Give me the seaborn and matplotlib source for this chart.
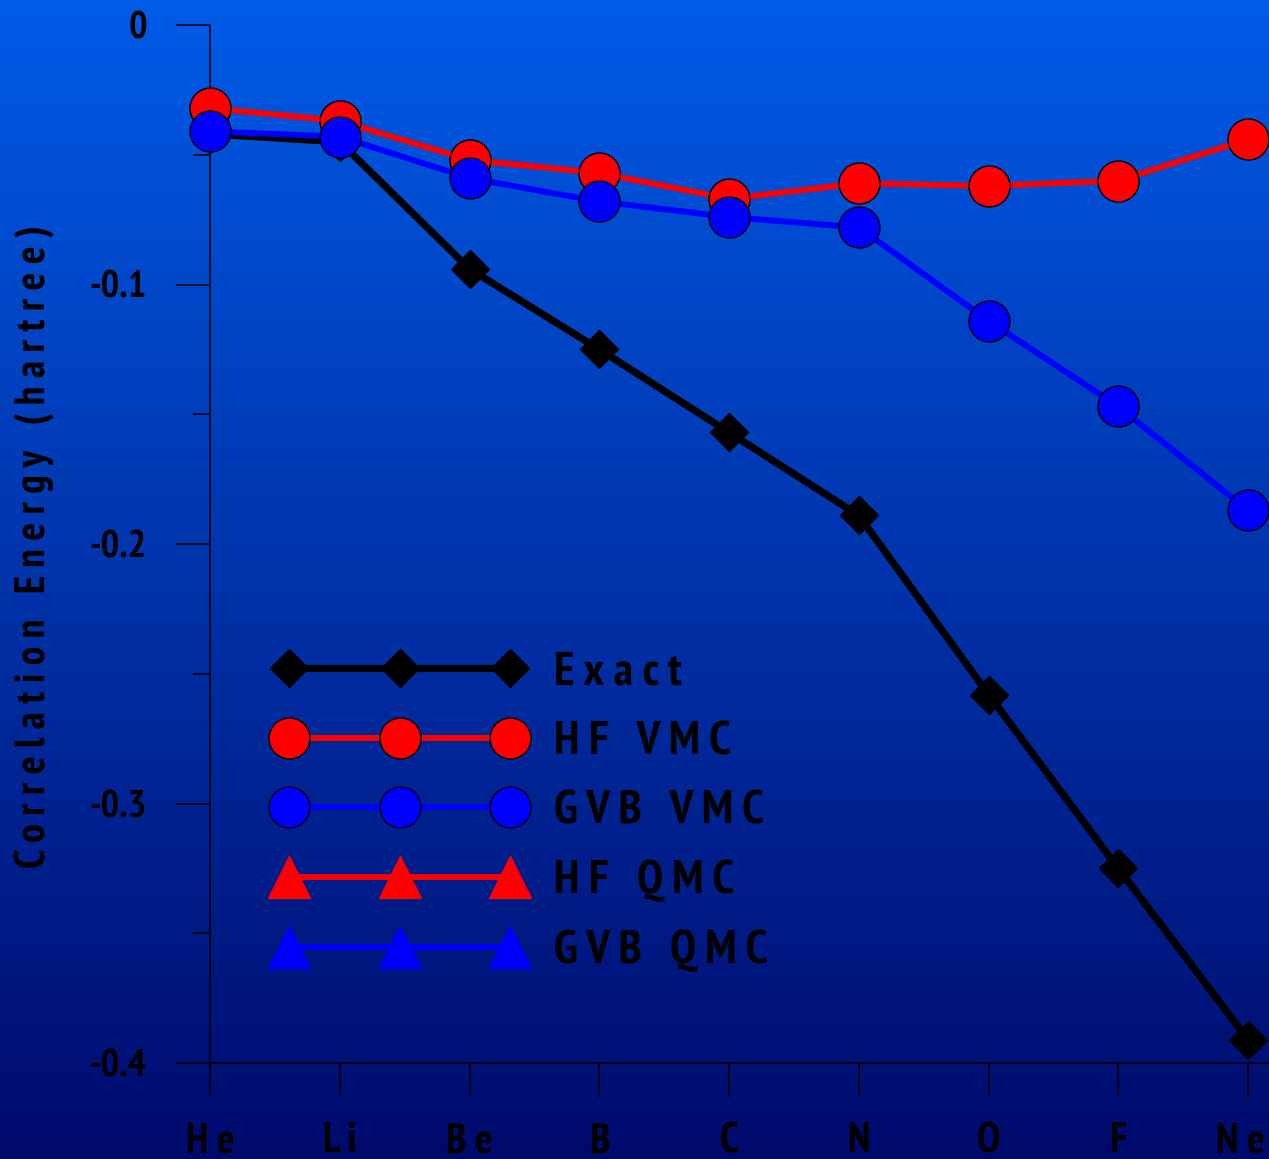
import numpy as np
import pandas as pd
import matplotlib
matplotlib.use("Agg")
import matplotlib.pyplot as plt
import seaborn as sns
from matplotlib.lines import Line2D
from matplotlib import font_manager as fm
from matplotlib.ticker import MultipleLocator, FixedLocator, FixedFormatter
from matplotlib.transforms import ScaledTranslation

# ---------------- data ----------------
elements = ["He", "Li", "Be", "B", "C", "N", "O", "F", "Ne"]
exact = [-0.042, -0.045, -0.094, -0.125, -0.157, -0.189, -0.258, -0.325, -0.391]
hf_vmc = [-0.032, -0.037, -0.052, -0.057, -0.067, -0.061, -0.062, -0.060, -0.044]
gvb_vmc = [-0.041, -0.043, -0.059, -0.068, -0.074, -0.078, -0.114, -0.147, -0.187]
legend_labels = ["Exact", "HF VMC", "GVB VMC", "HF QMC", "GVB QMC"]
y_ticks = [0, -0.1, -0.2, -0.3, -0.4]
y_tick_labels = ["0", "-0.1", "-0.2", "-0.3", "-0.4"]
y_label = "Correlation Energy (hartree)"


def spaced(s):
    return " ".join(s)


names = {f.name for f in fm.fontManager.ttflist}
family = "Liberation Sans"
for cand in ["PT Sans Narrow", "Liberation Sans Narrow", "Roboto Condensed", "Archivo Narrow"]:
    if cand in names:
        family = cand
        break
fams = [family, "DejaVu Sans"]
plt.rcParams["font.family"] = fams
plt.rcParams["font.weight"] = "bold"

W, H = 1269, 1159
fig = plt.figure(figsize=(W / 100, H / 100), dpi=100)

# background gradient
bg = fig.add_axes([0, 0, 1, 1], zorder=-10)
top = np.array([0, 92, 232]) / 255.0
bot = np.array([0, 10, 108]) / 255.0
t = np.linspace(0, 1, 512).reshape(-1, 1, 1)
grad = top * (1 - t) + bot * t
grad = np.repeat(grad, 2, axis=1)
bg.imshow(grad, aspect="auto", extent=[0, 1, 0, 1], origin="upper")
bg.axis("off")

# main axes
x0, x1 = 210, 1269
y0, y1 = 25, 1063
ax = fig.add_axes([x0 / W, 1 - y1 / H, (x1 - x0) / W, (y1 - y0) / H])
ax.set_facecolor("none")

sns.lineplot(x=elements, y=exact, ax=ax, sort=False, color="black", marker="D",
             markersize=19.5, markeredgecolor="black", markeredgewidth=1,
             linewidth=5.2, label=legend_labels[0], clip_on=False, zorder=3)
sns.lineplot(x=elements, y=hf_vmc, ax=ax, sort=False, color="#ff0000", marker="o",
             markersize=29.5, markeredgecolor="black", markeredgewidth=1,
             linewidth=4.3, label=legend_labels[1], clip_on=False, zorder=4)
sns.lineplot(x=elements, y=gvb_vmc, ax=ax, sort=False, color="#0000ff", marker="o",
             markersize=29.5, markeredgecolor="black", markeredgewidth=1,
             linewidth=4.3, label=legend_labels[2], clip_on=False, zorder=5)

ax.set_ylim(-0.4, 0)
ax.set_xlim(0, (len(elements) - 1) + 21 / 129.75)

ax.yaxis.set_major_locator(FixedLocator(y_ticks))
ax.yaxis.set_major_formatter(FixedFormatter(y_tick_labels))
ax.yaxis.set_minor_locator(MultipleLocator(0.05))
ax.set_xticks(range(len(elements)))
ax.set_xticklabels([spaced(e) for e in elements])

for side in ["top", "right"]:
    ax.spines[side].set_visible(False)
for side in ["left", "bottom"]:
    ax.spines[side].set_color("black")
    ax.spines[side].set_linewidth(1.1)

ax.tick_params(axis="y", which="major", length=24.5, width=1.1, direction="out",
               pad=21, labelsize=28, colors="black")
ax.tick_params(axis="y", which="minor", length=12, width=1.1, direction="out", colors="black")
ax.tick_params(axis="x", which="major", length=24.5, width=1.1, direction="out",
               pad=18, labelsize=30, colors="black")
for lab in ax.get_xticklabels() + ax.get_yticklabels():
    lab.set_fontweight("bold")

# keep the last category label inside the figure edge
last = ax.get_xticklabels()[-1]
last.set_transform(last.get_transform() + ScaledTranslation(-8 / 100, 0, fig.dpi_scale_trans))

ax.set_xlabel("")
ax.set_ylabel(spaced(y_label), fontsize=30, fontweight="bold", color="black")
ax.yaxis.set_label_coords((54 - x0) / (x1 - x0), (y1 - 547) / (y1 - y0))

# legend
handles, labels = ax.get_legend_handles_labels()
handles = list(handles) + [
    Line2D([], [], color="#ff0000", marker="^", markersize=30, linewidth=4.3,
           markeredgecolor="#ff0000"),
    Line2D([], [], color="#0000ff", marker="^", markersize=30, linewidth=4.3,
           markeredgecolor="#0000ff"),
]
labels = [spaced(l) for l in legend_labels]
FS = 34
fpx = FS * 100 / 72
leg = ax.legend(handles, labels, loc="center left",
                bbox_to_anchor=((289 - 0.3 * fpx) / W, 1 - 812 / H),
                bbox_transform=fig.transFigure,
                numpoints=3, handlelength=(221 + 0.6 * fpx) / fpx,
                handletextpad=(554 - 289 - 221 - 0.3 * fpx) / fpx,
                labelspacing=0.58,
                borderpad=0, borderaxespad=0, frameon=False,
                prop={"family": fams, "size": FS, "weight": "bold"})
for txt in leg.get_texts():
    txt.set_color("black")

fig.savefig("out.png", dpi=100)
